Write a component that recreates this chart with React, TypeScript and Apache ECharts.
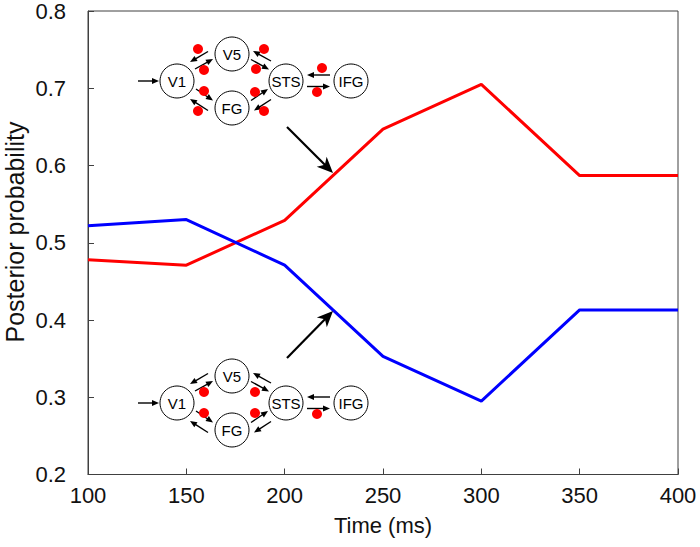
import React, { useEffect, useRef } from "react";
import * as echarts from "echarts";

const times = [100, 150, 200, 250, 300, 350, 400];
const redValues = [0.478, 0.471, 0.529, 0.647, 0.705, 0.587, 0.587];
const blueValues = [0.522, 0.53, 0.471, 0.353, 0.295, 0.413, 0.413];
const xTicks = { min: 100, max: 400, interval: 50 };
const yTicks = { min: 0.2, max: 0.8, interval: 0.1 };

const FONT = "'Liberation Sans', Arial, Helvetica, sans-serif";

type P = [number, number];

function arrow(a: P, b: P, hl: number, hw: number, lw: number, concave = false): any[] {
  const dx = b[0] - a[0];
  const dy = b[1] - a[1];
  const L = Math.hypot(dx, dy);
  const ux = dx / L, uy = dy / L;
  const nx = -uy, ny = ux;
  const bx = b[0] - ux * hl, by = b[1] - uy * hl;
  const pts: P[] = concave
    ? [
        [b[0], b[1]],
        [bx + nx * hw / 2, by + ny * hw / 2],
        [b[0] - ux * hl * 0.72, b[1] - uy * hl * 0.72],
        [bx - nx * hw / 2, by - ny * hw / 2],
      ]
    : [
        [b[0], b[1]],
        [bx + nx * hw / 2, by + ny * hw / 2],
        [bx - nx * hw / 2, by - ny * hw / 2],
      ];
  const endF = concave ? 0.7 : 0.9;
  return [
    {
      type: "line",
      shape: { x1: a[0], y1: a[1], x2: b[0] - ux * hl * endF, y2: b[1] - uy * hl * endF },
      style: { stroke: "#000", lineWidth: lw },
      z: 50,
    },
    { type: "polygon", shape: { points: pts }, style: { fill: "#000" }, z: 51 },
  ];
}

function diagram(dy: number, dots: P[]): any[] {
  const els: any[] = [];
  const nodes: [string, number, number][] = [
    ["V1", 177, 81],
    ["V5", 232, 54],
    ["FG", 232, 108],
    ["STS", 286, 81],
    ["IFG", 351, 81],
  ];
  const arrows: [P, P][] = [
    [[138, 81], [159, 81]],
    [[208, 51.5], [190, 62]],
    [[195, 69], [213, 59]],
    [[196, 89], [213, 100.5]],
    [[208, 110.5], [190, 99]],
    [[271, 61], [253, 51]],
    [[251, 59.5], [269, 69.5]],
    [[251, 100.5], [268, 89]],
    [[271, 99.5], [254, 110.5]],
    [[330, 75], [307, 75]],
    [[307, 86.5], [330, 86.5]],
  ];
  arrows.forEach(([a, b]) => {
    els.push(...arrow([a[0], a[1] + dy], [b[0], b[1] + dy], 7, 6, 1.4));
  });
  nodes.forEach(([t, x, y]) => {
    els.push({
      type: "circle",
      shape: { cx: x, cy: y + dy, r: 17 },
      style: { fill: "#fff", stroke: "#000", lineWidth: 1 },
      z: 52,
    });
    els.push({
      type: "text",
      x,
      y: y + dy + 0.5,
      style: {
        text: t,
        fill: "#000",
        font: `15px ${FONT}`,
        align: "center",
        verticalAlign: "middle",
      },
      z: 53,
    });
  });
  dots.forEach(([x, y]) => {
    els.push({
      type: "circle",
      shape: { cx: x, cy: y + dy, r: 5 },
      style: { fill: "#ff0000" },
      z: 54,
    });
  });
  return els;
}

const topDots: P[] = [
  [198, 49],
  [204, 70],
  [204, 91],
  [198, 111],
  [264, 49],
  [256, 69],
  [255, 92],
  [264, 111],
  [322, 68],
  [317, 92],
];
const bottomDots: P[] = [
  [204, 70],
  [204, 91],
  [255, 70],
  [255, 91],
  [317, 92],
];

export default function App() {
  const ref = useRef<HTMLDivElement>(null);
  useEffect(() => {
    if (!ref.current) return;
    const chart = echarts.init(ref.current, null, { renderer: "svg" });
    const axisColor = "#404040";
    chart.setOption({
      animation: false,
      backgroundColor: "#fff",
      grid: {
        left: 88,
        right: 22,
        top: 10.5,
        bottom: 72.5,
        show: true,
        borderColor: axisColor,
        borderWidth: 1,
        backgroundColor: "transparent",
      },
      xAxis: {
        type: "value",
        min: xTicks.min,
        max: xTicks.max,
        interval: xTicks.interval,
        name: "Time (ms)",
        nameLocation: "middle",
        nameGap: 40,
        nameTextStyle: { fontFamily: FONT, fontSize: 22, color: "#111" },
        axisLine: { show: true, lineStyle: { color: axisColor, width: 1 } },
        axisTick: { show: true, inside: true, length: 6, lineStyle: { color: axisColor } },
        axisLabel: { fontFamily: FONT, fontSize: 22, color: "#111", margin: 10 },
        splitLine: { show: false },
      },
      yAxis: {
        type: "value",
        min: yTicks.min,
        max: yTicks.max,
        interval: yTicks.interval,
        axisLine: { show: true, lineStyle: { color: axisColor, width: 1 } },
        axisTick: { show: true, inside: true, length: 6, lineStyle: { color: axisColor } },
        axisLabel: {
          fontFamily: FONT,
          fontSize: 22,
          color: "#111",
          margin: 22,
          formatter: (v: number) => v.toFixed(1),
        },
        splitLine: { show: false },
      },
      series: [
        {
          type: "line",
          data: times.map((t, i) => [t, redValues[i]]),
          showSymbol: false,
          lineStyle: { color: "#ff0000", width: 3 },
          itemStyle: { color: "#ff0000" },
        },
        {
          type: "line",
          data: times.map((t, i) => [t, blueValues[i]]),
          showSymbol: false,
          lineStyle: { color: "#0000ff", width: 3 },
          itemStyle: { color: "#0000ff" },
        },
      ],
      graphic: [
        {
          type: "text",
          x: 15,
          y: 232,
          rotation: Math.PI / 2,
          style: {
            text: "Posterior probability",
            fill: "#111",
            font: `25px ${FONT}`,
            align: "center",
            verticalAlign: "middle",
          },
        },
        ...diagram(0, topDots),
        ...diagram(322, bottomDots),
        ...arrow([287, 127], [333, 173], 16, 14, 2.2, true),
        ...arrow([287, 358], [333, 311], 16, 14, 2.2, true),
      ],
    });
    return () => chart.dispose();
  }, []);
  return (
    <div
      ref={ref}
      style={{ position: "fixed", left: 0, top: 0, width: 700, height: 547 }}
    />
  );
}
